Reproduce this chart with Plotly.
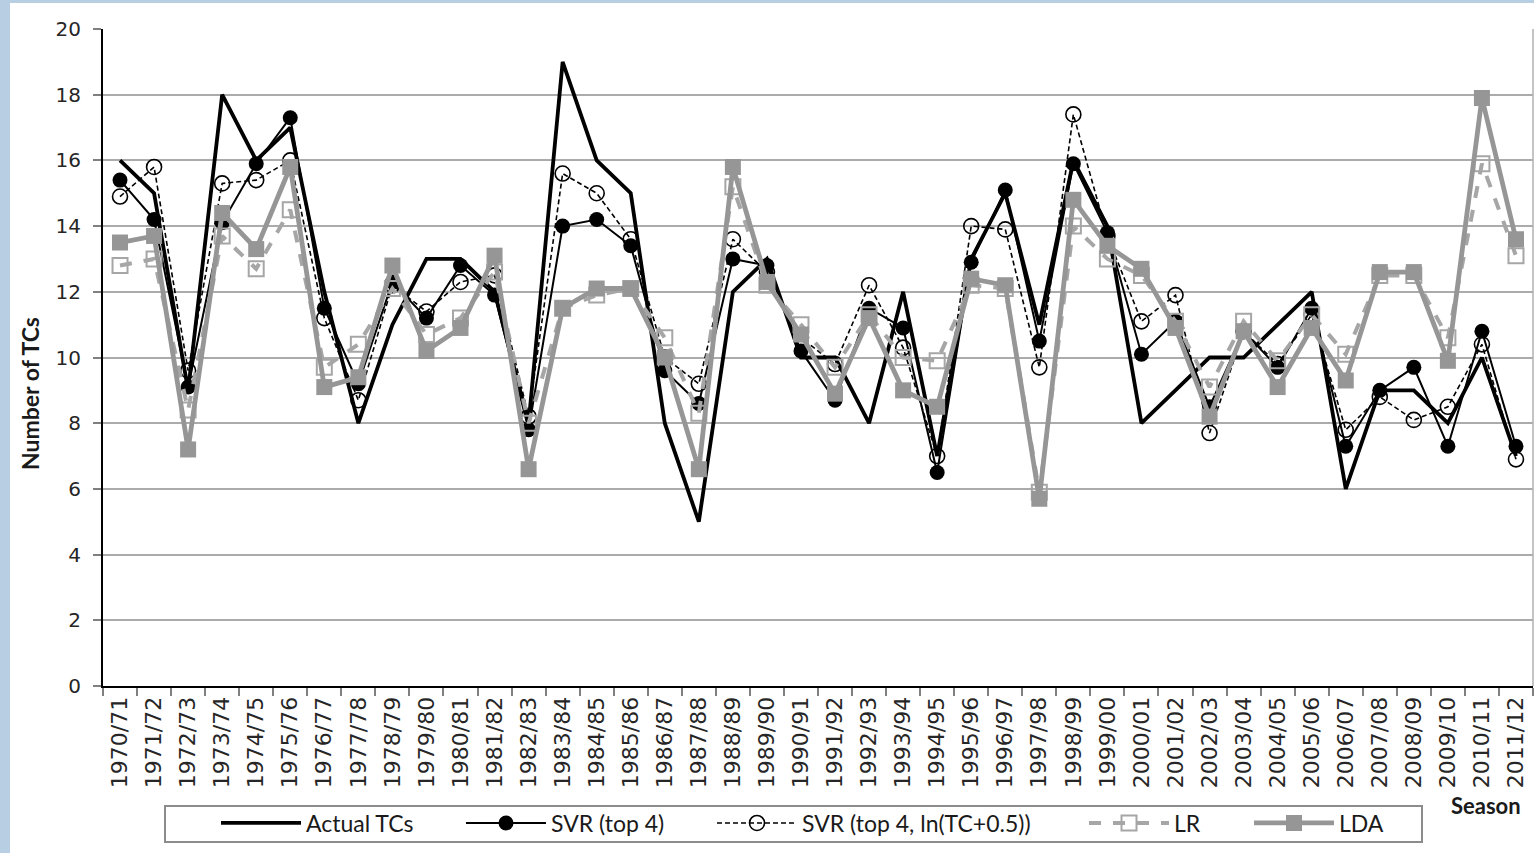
import plotly.graph_objects as go

seasons = ["1970/71", "1971/72", "1972/73", "1973/74", "1974/75", "1975/76", "1976/77",
           "1977/78", "1978/79", "1979/80", "1980/81", "1981/82", "1982/83", "1983/84",
           "1984/85", "1985/86", "1986/87", "1987/88", "1988/89", "1989/90", "1990/91",
           "1991/92", "1992/93", "1993/94", "1994/95", "1995/96", "1996/97", "1997/98",
           "1998/99", "1999/00", "2000/01", "2001/02", "2002/03", "2003/04", "2004/05",
           "2005/06", "2006/07", "2007/08", "2008/09", "2009/10", "2010/11", "2011/12"]

actual = [16, 15, 9, 18, 16, 17, 12, 8, 11, 13,
          13, 12, 8, 19, 16, 15, 8, 5, 12, 13,
          10, 10, 8, 12, 7, 13, 15, 11, 16, 14,
          8, 9, 10, 10, 11, 12, 6, 9, 9, 8, 10, 7]

svr_top4 = [15.4, 14.2, 9.1, 14.1, 15.9, 17.3, 11.5, 9.2, 12.3, 11.2,
            12.8, 11.9, 7.8, 14.0, 14.2, 13.4, 9.6, 8.6, 13.0, 12.8,
            10.2, 8.7, 11.5, 10.9, 6.5, 12.9, 15.1, 10.5, 15.9, 13.8,
            10.1, 11.1, 8.5, 10.8, 9.7, 11.5, 7.3, 9.0, 9.7, 7.3, 10.8, 7.3]

svr_ln = [14.9, 15.8, 9.6, 15.3, 15.4, 16.0, 11.2, 8.7, 12.2, 11.4,
          12.3, 12.5, 8.2, 15.6, 15.0, 13.6, 10.0, 9.2, 13.6, 12.6,
          10.6, 9.8, 12.2, 10.3, 7.0, 14.0, 13.9, 9.7, 17.4, 13.7,
          11.1, 11.9, 7.7, 10.8, 9.8, 11.3, 7.8, 8.8, 8.1, 8.5, 10.4, 6.9]

lr = [12.8, 13.0, 8.4, 13.7, 12.7, 14.5, 9.7, 10.4, 12.1, 10.7,
      11.2, 12.6, 8.0, 11.5, 11.9, 12.1, 10.6, 8.3, 15.2, 12.2,
      11.0, 9.7, 11.3, 10.0, 9.9, 12.2, 12.1, 5.9, 14.0, 13.0,
      12.5, 11.1, 9.1, 11.1, 9.9, 11.3, 10.1, 12.5, 12.5, 10.6, 15.9, 13.1]

lda = [13.5, 13.7, 7.2, 14.4, 13.3, 15.8, 9.1, 9.4, 12.8, 10.2,
       10.9, 13.1, 6.6, 11.5, 12.1, 12.1, 10.0, 6.6, 15.8, 12.3,
       10.7, 8.9, 11.2, 9.0, 8.5, 12.4, 12.2, 5.7, 14.8, 13.4,
       12.7, 10.9, 8.2, 10.8, 9.1, 10.9, 9.3, 12.6, 12.6, 9.9, 17.9, 13.6]

y_ticks = [0, 2, 4, 6, 8, 10, 12, 14, 16, 18, 20]

W, H = 1534, 853
L, R, T, B = 103, 1, 29, 167
PW = W - L - R
PH = H - T - B


def px(xp):
    return (xp - L) / PW


def py(yp):
    return (H - B - yp) / PH


GRAY_LDA = "#969696"
GRAY_LR = "#a6a6a6"
LEG_FONT = dict(family="Lato", size=23, color="#1a1a1a")

fig = go.Figure()
fig.add_trace(go.Scatter(x=seasons, y=actual, name="Actual TCs", mode="lines",
                         line=dict(color="black", width=3.8), legend="legend"))
fig.add_trace(go.Scatter(x=seasons, y=svr_top4, name="SVR (top 4)", mode="lines+markers",
                         line=dict(color="black", width=2),
                         marker=dict(symbol="circle", size=15, color="black"),
                         legend="legend2"))
fig.add_trace(go.Scatter(x=seasons, y=svr_ln, name="SVR (top 4, ln(TC+0.5))", mode="lines+markers",
                         line=dict(color="black", width=1.6, dash="5px,3px"),
                         marker=dict(symbol="circle-open", size=15, color="black",
                                     line=dict(width=1.6)),
                         legend="legend3"))
fig.add_trace(go.Scatter(x=seasons, y=lr, name="LR", mode="lines+markers",
                         line=dict(color=GRAY_LR, width=4, dash="dash"),
                         marker=dict(symbol="square-open", size=15, color=GRAY_LR,
                                     line=dict(width=2)),
                         legend="legend4"))
fig.add_trace(go.Scatter(x=seasons, y=lda, name="LDA", mode="lines+markers",
                         line=dict(color=GRAY_LDA, width=4.8),
                         marker=dict(symbol="square", size=16, color=GRAY_LDA),
                         legend="legend5"))

leg_y = py(823)
leg_common = dict(orientation="h", yanchor="middle", y=leg_y, xanchor="left",
                  bgcolor="rgba(0,0,0,0)", borderwidth=0, font=LEG_FONT,
                  itemwidth=80, itemclick=False, itemdoubleclick=False)
starts = [222, 467, 718, 1090, 1255]
legend_layout = {}
for i, s in enumerate(starts):
    key = "legend" if i == 0 else f"legend{i + 1}"
    legend_layout[key] = dict(x=px(s - 6), **leg_common)

fig.update_layout(
    width=W, height=H,
    margin=dict(l=L, r=R, t=T, b=B, autoexpand=False),
    paper_bgcolor="#b8cee3",
    plot_bgcolor="white",
    showlegend=True,
    **legend_layout,
    xaxis=dict(type="category", categoryorder="array", categoryarray=seasons,
               tickangle=-90, ticks="outside", tickson="boundaries", ticklen=8,
               tickcolor="#808080", tickwidth=1.5,
               showline=True, linecolor="black", linewidth=2, showgrid=False,
               tickfont=dict(family="DejaVu Sans", size=22, color="#262626"),
               range=[-0.5, len(seasons) - 0.5], automargin=False),
    yaxis=dict(range=[0, 20], tickvals=y_ticks, ticks="outside", ticklen=8,
               tickcolor="#808080", tickwidth=1.5, ticklabelstandoff=8,
               showline=True, linecolor="black", linewidth=2,
               showgrid=True, gridcolor="#ababab", gridwidth=2, zeroline=False,
               tickfont=dict(family="DejaVu Sans", size=20, color="#262626"),
               automargin=False),
    shapes=[
        dict(type="rect", xref="paper", yref="paper", x0=px(10), x1=px(W + 5),
             y0=py(H + 5), y1=py(3), fillcolor="white", line=dict(width=0), layer="below"),
        dict(type="rect", xref="paper", yref="paper", x0=px(165), x1=px(1422),
             y0=py(842), y1=py(806), fillcolor="rgba(0,0,0,0)",
             line=dict(color="#8c8c8c", width=2)),
        dict(type="line", xref="paper", yref="paper", x0=1, x1=1, y0=0, y1=1,
             line=dict(color="#b0b0b0", width=1.5)),
    ],
    annotations=[
        dict(text="<b>Number of TCs</b>", xref="paper", yref="paper",
             x=px(30), y=py(394), textangle=-90, showarrow=False,
             font=dict(family="Lato", size=23, color="#1a1a1a"),
             xanchor="center", yanchor="middle"),
        dict(text="<b>Season</b>", xref="paper", yref="paper",
             x=px(1486), y=py(805), showarrow=False,
             font=dict(family="Lato", size=22, color="#1a1a1a"),
             xanchor="center", yanchor="middle"),
    ],
)

fig.write_html("out.html", config={"displayModeBar": False},
               post_script="document.body.style.margin='0';document.body.style.background='#b8cee3';")
